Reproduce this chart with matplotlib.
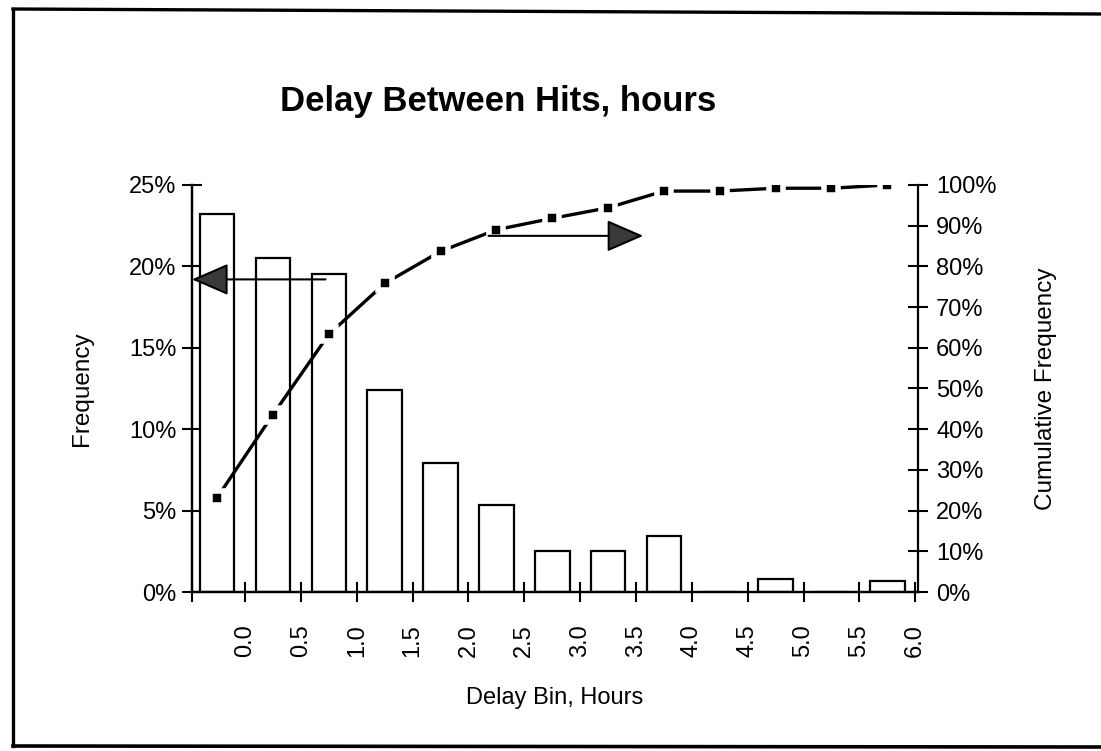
import matplotlib.pyplot as plt
from matplotlib.lines import Line2D
from matplotlib.ticker import PercentFormatter

plt.rcParams['font.family'] = ['Liberation Sans', 'DejaVu Sans']

# delay bins (hours) and measured frequencies
bin_labels = ['0.0', '0.5', '1.0', '1.5', '2.0', '2.5', '3.0',
              '3.5', '4.0', '4.5', '5.0', '5.5', '6.0']
frequency = [23.2, 20.5, 19.55, 12.4, 7.94, 5.32, 2.5, 2.5, 3.44, 0.0, 0.78, 0.0, 0.68]
cumulative = [23.2, 43.6, 63.3, 75.8, 83.7, 89.0, 91.8, 94.4, 98.5, 98.5, 99.2, 99.2, 100.0]

fig = plt.figure(figsize=(11.01, 7.51), dpi=100)
ax = fig.add_axes([0.1744, 0.2117, 0.6594, 0.5420])
ax2 = ax.twinx()

idx = list(range(len(frequency)))

#1. bars for the frequency (left axis)
ax.bar(idx, frequency, width=0.62, color='white', edgecolor='black', linewidth=1.6, zorder=2)
ax.set_xlim(-0.45, len(idx) - 0.45)
ax.set_ylim(0, 25)
ax.set_yticks(range(0, 26, 5))
ax.yaxis.set_major_formatter(PercentFormatter(decimals=0))

ax.set_xticks([i + 0.5 for i in idx])
ax.set_xticklabels(bin_labels, rotation=90)
ax.set_xticks([-0.45], minor=True)

for a in (ax, ax2):
    a.spines['top'].set_visible(False)
    for s in ('left', 'right', 'bottom'):
        a.spines[s].set_linewidth(1.6)
ax.spines['right'].set_visible(False)

ax.tick_params(axis='y', direction='inout', length=14, width=1.5, labelsize=17, pad=4)
ax.tick_params(axis='x', which='both', direction='inout', length=14, width=1.5, labelsize=17, pad=16)
ax2.tick_params(axis='y', direction='inout', length=14, width=1.5, labelsize=17, pad=6)

#2. cumulative line (right axis)
ax2.set_ylim(0, 100)
ax2.set_yticks(range(0, 101, 10))
ax2.yaxis.set_major_formatter(PercentFormatter(decimals=0))
ax2.plot(idx, cumulative, color='black', linewidth=2.4, marker='s', markersize=10,
         markerfacecolor='black', markeredgecolor='white', markeredgewidth=4, zorder=3)

#3. arrows showing which axis belongs to which series
arrow = dict(arrowstyle='-|>,head_length=1.15,head_width=0.5', mutation_scale=20,
             linewidth=1.5, facecolor='#3a3a3a', edgecolor='black', shrinkA=0, shrinkB=0)
ax.annotate('', xy=(-0.45, 19.2), xytext=(1.94, 19.2), arrowprops=arrow)
ax2.annotate('', xy=(7.63, 87.5), xytext=(4.86, 87.5), arrowprops=arrow)

#4. labels
ax.set_ylabel('Frequency', fontsize=17.5, labelpad=26)
ax2.set_ylabel('Cumulative Frequency', fontsize=17.5, labelpad=28)
ax.set_xlabel('Delay Bin, Hours', fontsize=17, labelpad=22)
fig.text(0.452, 0.865, 'Delay Between Hits, hours', fontsize=25, fontweight='bold',
         ha='center', va='center')

# frame around the chart
W, H = 1101, 751
fig.add_artist(Line2D([13 / W, 13 / W], [1 - 9 / H, 1 - 746 / H], color='black', lw=2.4))
fig.add_artist(Line2D([13 / W, 1.0], [1 - 9 / H, 1 - 14 / H], color='black', lw=2.4))
fig.add_artist(Line2D([13 / W, 1.0], [1 - 746 / H, 1 - 747 / H], color='black', lw=2.6))

fig.savefig('out.png', dpi=100)
